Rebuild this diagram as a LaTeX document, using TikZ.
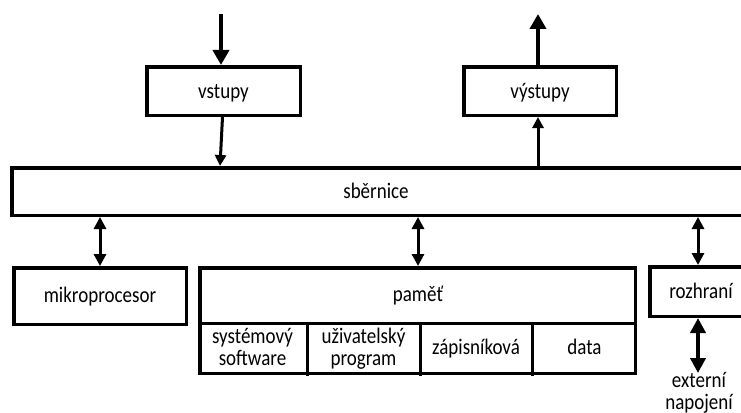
\documentclass[tikz,border=0pt]{standalone}
\usepackage{fontspec}
\usepackage{graphicx}
\setmainfont{Carlito}
\usetikzlibrary{arrows.meta}
% labels are set slightly taller than the font's natural shape
\newcommand\tallt[1]{\scalebox{1}[1.17]{\begin{tabular}{@{}c@{}}#1\end{tabular}}}
\begin{document}
\begin{tikzpicture}[x=1pt,y=-1pt,
  txt/.style={font=\fontsize{19}{19.5}\selectfont,align=center,inner sep=0pt},
  blk/.style={draw=black,line width=3.5pt,fill=white,inner sep=0pt},
  bigarrow/.style={line width=4pt,-{Triangle[length=15pt,width=16pt]}},
  smallarrow/.style={line width=3pt,-{Triangle[length=11pt,width=11pt]}},
  linkarrow/.style={line width=3pt,{Triangle[length=12pt,width=12pt]}-{Triangle[length=12pt,width=12pt]}},
  extarrow/.style={line width=4.5pt,{Triangle[length=15pt,width=15pt]}-{Triangle[length=15pt,width=15pt]}},
  sep/.style={line width=3pt}]
\useasboundingbox (0,0) rectangle (741,412);
\clip (0,0) rectangle (741,412);
\fill[white] (0,0) rectangle (741,412);

% blocks
\node[blk,minimum width=153.5pt,minimum height=48.5pt] (vst) at (223.5,91) {};
\node[txt] (vstl) at ([yshift=-3pt]vst.center) {\tallt{vstupy}};
\node[blk,minimum width=152.5pt,minimum height=48.5pt] (vyst) at (540,91) {};
\node[txt] (vystl) at ([yshift=-3pt]vyst.center) {\tallt{výstupy}};
\node[blk,minimum width=760pt,minimum height=47.5pt] (bus) at (392,191.5) {};
\node[txt] (busl) at (376,194) {\tallt{sběrnice}};
\node[blk,minimum width=172.5pt,minimum height=56.5pt] (cpu) at (100,296) {};
\node[txt] (cpul) at ([yshift=-2pt]cpu.center) {\tallt{mikroprocesor}};
\node[blk,minimum width=435.5pt,minimum height=105.5pt] (mem) at (417.5,320.5) {};
\node[txt] (meml) at (418,297) {\tallt{paměť}};
\node[blk,minimum width=110pt,minimum height=49.5pt] (io) at (705,291.5) {};
\node[txt] (iol) at (701,294) {\tallt{rozhraní}};

% memory compartments
\node[txt,minimum width=109pt,minimum height=52pt] (m1) at (252.5,350) {\tallt{systémový\\software}};
\node[txt,minimum width=113pt,minimum height=52pt] (m2) at (363.5,350) {\tallt{uživatelský\\program}};
\node[txt,minimum width=112pt,minimum height=52pt] (m3) at (476,350) {\tallt{zápisníková}};
\node[txt,minimum width=105pt,minimum height=52pt] (m4) at (584.5,350) {\tallt{data}};
\draw[sep] (m1.north west -| mem.west) -- (m4.north east -| mem.east);
\draw[sep] (m1.north east) -- (m1.south east);
\draw[sep] (m2.north east) -- (m2.south east);
\draw[sep] (m3.north east) -- (m3.south east);

% external connection label
\node[txt] (ext) at (699,394) {\tallt{externí\\napojení}};

% connectors
\coordinate (in) at (221,14);
\coordinate (out) at (538,14);
\draw[bigarrow] (in) -- (vst.north -| in);
\draw[smallarrow] ([xshift=-1pt]vst.south) -- (bus.north -| 220,0);
\draw[bigarrow] (vyst.north -| out) -- (out);
\draw[smallarrow] (bus.north -| out) -- (vyst.south -| out);
\draw[linkarrow] (bus.south -| cpu) -- (cpu.north);
\draw[linkarrow] (bus.south -| meml) -- (mem.north -| meml);
\draw[linkarrow] (bus.south -| 698,0) -- (io.north -| 698,0);
\draw[extarrow] (io.south -| 698,0) -- (698,373);
\end{tikzpicture}
\end{document}
